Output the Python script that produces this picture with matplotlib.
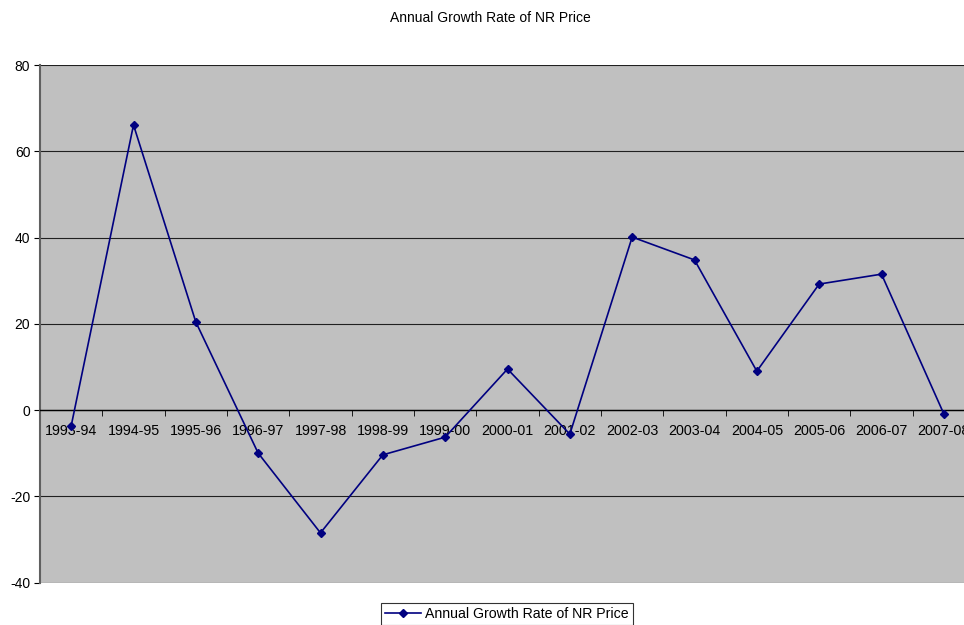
import numpy as np
import matplotlib as mpl
mpl.use('Agg')
from matplotlib import pyplot as plt

years = ["1993-94", "1994-95", "1995-96", "1996-97", "1997-98", "1998-99",
         "1999-00", "2000-01", "2001-02", "2002-03", "2003-04", "2004-05",
         "2005-06", "2006-07", "2007-08"]
growth = [-3.7, 66.1, 20.4, -10.0, -28.5, -10.4, -6.3, 9.5, -5.6,
          40.1, 34.8, 9.0, 29.2, 31.5, -0.9]
yticks = [-40, -20, 0, 20, 40, 60, 80]


def main():
    mpl.rc('font', family=['Liberation Sans', 'DejaVu Sans'])

    fig = plt.figure(figsize=(9.64, 6.25), dpi=100)
    # plot area runs past the right edge, like the original
    ax = fig.add_axes([40 / 964, 1 - 582.5 / 625, 935 / 964, 517.5 / 625])
    ax.set_facecolor('#c0c0c0')

    x = np.arange(len(years))
    line, = ax.plot(x, growth, color='#000080', lw=1.2, marker='D', ms=4.5,
                    label='Annual Growth Rate of NR Price', zorder=3)

    ax.set_xlim(-0.5, len(years) - 0.5)
    ax.set_ylim(-40, 80)
    ax.set_yticks(yticks)
    ax.set_yticklabels([str(v) for v in yticks], fontsize=10)
    ax.grid(axis='y', color='#202020', lw=0.8)
    ax.set_axisbelow(True)

    for s in ['top', 'right']:
        ax.spines[s].set_visible(False)
    ax.spines['left'].set_color('#606060')
    ax.spines['left'].set_linewidth(1.5)
    ax.spines['bottom'].set_position(('data', 0))
    ax.spines['bottom'].set_color('black')
    ax.spines['bottom'].set_linewidth(1.0)

    ax.set_xticks(x)
    ax.set_xticklabels(years, fontsize=10.3)
    ax.tick_params(axis='x', which='major', length=0, pad=10)
    ax.set_xticks(np.arange(len(years) + 1) - 0.5, minor=True)
    ax.tick_params(axis='x', which='minor', length=4, color='black')
    ax.tick_params(axis='y', length=4, color='black', pad=3)

    fig.text(490 / 964, 1 - 18 / 625, 'Annual Growth Rate of NR Price',
             ha='center', va='center', fontsize=10)

    leg = fig.legend(handles=[line], loc='lower center',
                     bbox_to_anchor=(507 / 964, -0.012), fontsize=10.2,
                     frameon=True, fancybox=False, handlelength=2.5,
                     borderpad=0.3, handletextpad=0.3)
    leg.get_frame().set_edgecolor('black')
    leg.get_frame().set_linewidth(0.8)

    plt.savefig('out.png', dpi=100)


if __name__ == "__main__":
    main()
